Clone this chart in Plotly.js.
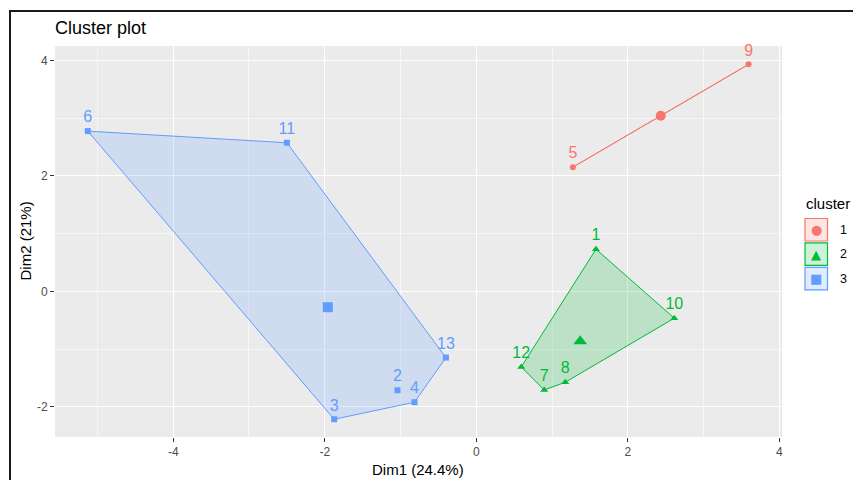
<!DOCTYPE html>
<html><head><meta charset="utf-8">
<script src="https://cdn.plot.ly/plotly-3.0.1.min.js"></script>
<style>
html,body{margin:0;padding:0;background:#fff;}
#wrap{position:relative;width:853px;height:480px;overflow:hidden;}
#frame{position:absolute;left:9px;top:10px;width:900px;height:600px;border-top:2px solid #1a1a1a;border-left:2px solid #1a1a1a;pointer-events:none;z-index:10;}
</style></head><body>
<div id="wrap"><div id="chart"></div><div id="frame"></div></div>
<script>
// ---- data ----
const clusterNames = ['1', '2', '3'];
const clusterColors = ['#F8766D', '#00BA38', '#619CFF'];
const clusterFills = ['rgba(248,118,109,0.2)', 'rgba(0,186,56,0.2)', 'rgba(97,156,255,0.2)'];
const clusterSymbols = ['circle', 'triangle-up', 'square'];
const legendGlyphs = ['\u25CF', '\u25B2', '\u25A0'];

const labels1 = ['5', '9'];
const dim1_c1 = [1.275, 3.593];
const dim2_c1 = [2.152, 3.932];

const labels2 = ['1', '10', '12', '7', '8'];
const dim1_c2 = [1.579, 2.613, 0.593, 0.896, 1.174];
const dim2_c2 = [0.731, -0.464, -1.309, -1.707, -1.574];

const labels3 = ['6', '11', '13', '2', '4', '3'];
const dim1_c3 = [-5.127, -2.500, -0.401, -1.040, -0.816, -1.876];
const dim2_c3 = [2.776, 2.574, -1.146, -1.712, -1.920, -2.215];

const xTickVals = [-4, -2, 0, 2, 4];
const xTickText = ['-4', '-2', '0', '2', '4'];
const yTickVals = [-2, 0, 2, 4];
const yTickText = ['-2', '0', '2', '4'];

const xTitle = 'Dim1 (24.4%)';
const yTitle = 'Dim2 (21%)';
const chartTitle = 'Cluster plot';
const legendTitle = 'cluster';

// ---- helpers ----
function hull(xs, ys) {
  const pts = xs.map((x, i) => [x, ys[i]]).sort((a, b) => a[0] - b[0] || a[1] - b[1]);
  if (pts.length < 3) return pts;
  const cross = (o, a, b) => (a[0]-o[0])*(b[1]-o[1]) - (a[1]-o[1])*(b[0]-o[0]);
  const lower = [], upper = [];
  for (const p of pts) { while (lower.length >= 2 && cross(lower[lower.length-2], lower[lower.length-1], p) <= 0) lower.pop(); lower.push(p); }
  for (let i = pts.length - 1; i >= 0; i--) { const p = pts[i]; while (upper.length >= 2 && cross(upper[upper.length-2], upper[upper.length-1], p) <= 0) upper.pop(); upper.push(p); }
  upper.pop(); lower.pop();
  return lower.concat(upper);
}
const mean = a => a.reduce((s, v) => s + v, 0) / a.length;

const groups = [
  {x: dim1_c1, y: dim2_c1, t: labels1},
  {x: dim1_c2, y: dim2_c2, t: labels2},
  {x: dim1_c3, y: dim2_c3, t: labels3}
];
const pointSizes = [6, 7, 6];
const centerSizes = [10, 12, 10];
const FONT = 'Liberation Sans, Arial, sans-serif';

const traces = [];
groups.forEach((g, i) => {
  const h = hull(g.x, g.y);
  h.push(h[0]);
  traces.push({
    type: 'scatter', mode: 'lines', name: clusterNames[i], legendgroup: clusterNames[i],
    x: h.map(p => p[0]), y: h.map(p => p[1]),
    fill: 'toself', fillcolor: clusterFills[i],
    line: {color: clusterColors[i], width: 1},
    hoverinfo: 'skip', showlegend: false
  });
});
groups.forEach((g, i) => {
  traces.push({
    type: 'scatter', mode: 'markers+text', name: clusterNames[i], legendgroup: clusterNames[i], showlegend: false,
    x: g.x, y: g.y, text: g.t, textposition: 'top center',
    textfont: {family: FONT, size: 16, color: clusterColors[i]},
    marker: {symbol: clusterSymbols[i], size: pointSizes[i], color: clusterColors[i]},
    cliponaxis: false
  });
});
groups.forEach((g, i) => {
  traces.push({
    type: 'scatter', mode: 'markers', name: clusterNames[i], legendgroup: clusterNames[i], showlegend: false,
    x: [mean(g.x)], y: [mean(g.y)],
    marker: {symbol: clusterSymbols[i], size: centerSizes[i], color: clusterColors[i]}
  });
});

// ---- geometry (pixels) ----
const W = 853, H = 480, ML = 55, MR = 71, MT = 46, MB = 43;
const PW = W - ML - MR, PH = H - MT - MB;
const px = X => (X - ML) / PW;
const py = Y => (H - MB - Y) / PH;

const axisCommon = {
  showgrid: true, gridcolor: '#ffffff', gridwidth: 1.1,
  zeroline: false, showline: false,
  ticks: 'outside', ticklen: 4, tickwidth: 1, tickcolor: '#333333',
  tickfont: {family: FONT, size: 12, color: '#4d4d4d'},
  tickmode: 'array',
  minor: {tickmode: 'linear', tick0: 0, dtick: 1, showgrid: true, gridcolor: '#ffffff', gridwidth: 0.55, ticks: ''}
};

// ggplot-style legend keys
const shapes = [];
const annotations = [
  {text: xTitle, xref: 'paper', yref: 'paper', x: px(418.4), y: py(469), xanchor: 'center', yanchor: 'middle',
   showarrow: false, font: {family: FONT, size: 15, color: '#000000'}},
  {text: yTitle, xref: 'paper', yref: 'paper', x: px(25), y: py(241.5), xanchor: 'center', yanchor: 'middle',
   textangle: -90, showarrow: false, font: {family: FONT, size: 15, color: '#000000'}},
  {text: legendTitle, xref: 'paper', yref: 'paper', x: px(804), y: py(203), xanchor: 'left', yanchor: 'middle',
   showarrow: false, font: {family: FONT, size: 15, color: '#000000'}}
];
const keyTop = 218.5, keyPitch = 24.4, keySize = 22.5, keyLeft = 805;
clusterNames.forEach((n, i) => {
  const top = keyTop + i * keyPitch;
  shapes.push({type: 'rect', xref: 'paper', yref: 'paper',
    x0: px(keyLeft), x1: px(keyLeft + keySize), y0: py(top + keySize), y1: py(top),
    fillcolor: clusterFills[i], line: {color: clusterColors[i], width: 1.2}});
  annotations.push({text: legendGlyphs[i], xref: 'paper', yref: 'paper',
    x: px(keyLeft + keySize / 2), y: py(top + keySize / 2), xanchor: 'center', yanchor: 'middle',
    showarrow: false, font: {family: 'DejaVu Sans', size: 13, color: clusterColors[i]}});
  annotations.push({text: n, xref: 'paper', yref: 'paper',
    x: px(838), y: py(top + keySize / 2), xanchor: 'left', yanchor: 'middle',
    showarrow: false, font: {family: FONT, size: 12.5, color: '#000000'}});
});

const layout = {
  width: W, height: H,
  margin: {l: ML, r: MR, t: MT, b: MB, pad: 0, autoexpand: false},
  paper_bgcolor: '#ffffff', plot_bgcolor: '#ebebeb',
  font: {family: FONT, color: '#000000'},
  title: {text: chartTitle, font: {family: FONT, size: 18, color: '#000000'},
          x: 0, xref: 'paper', xanchor: 'left', y: 1 - 28/480, yref: 'container', yanchor: 'middle'},
  xaxis: Object.assign({}, axisCommon, {range: [-5.56, 4.034], tickvals: xTickVals, ticktext: xTickText}),
  yaxis: Object.assign({}, axisCommon, {range: [-2.522, 4.25], tickvals: yTickVals, ticktext: yTickText}),
  showlegend: false,
  shapes: shapes,
  annotations: annotations
};

Plotly.newPlot('chart', traces, layout, {displayModeBar: false, staticPlot: true});
</script>
</body></html>
